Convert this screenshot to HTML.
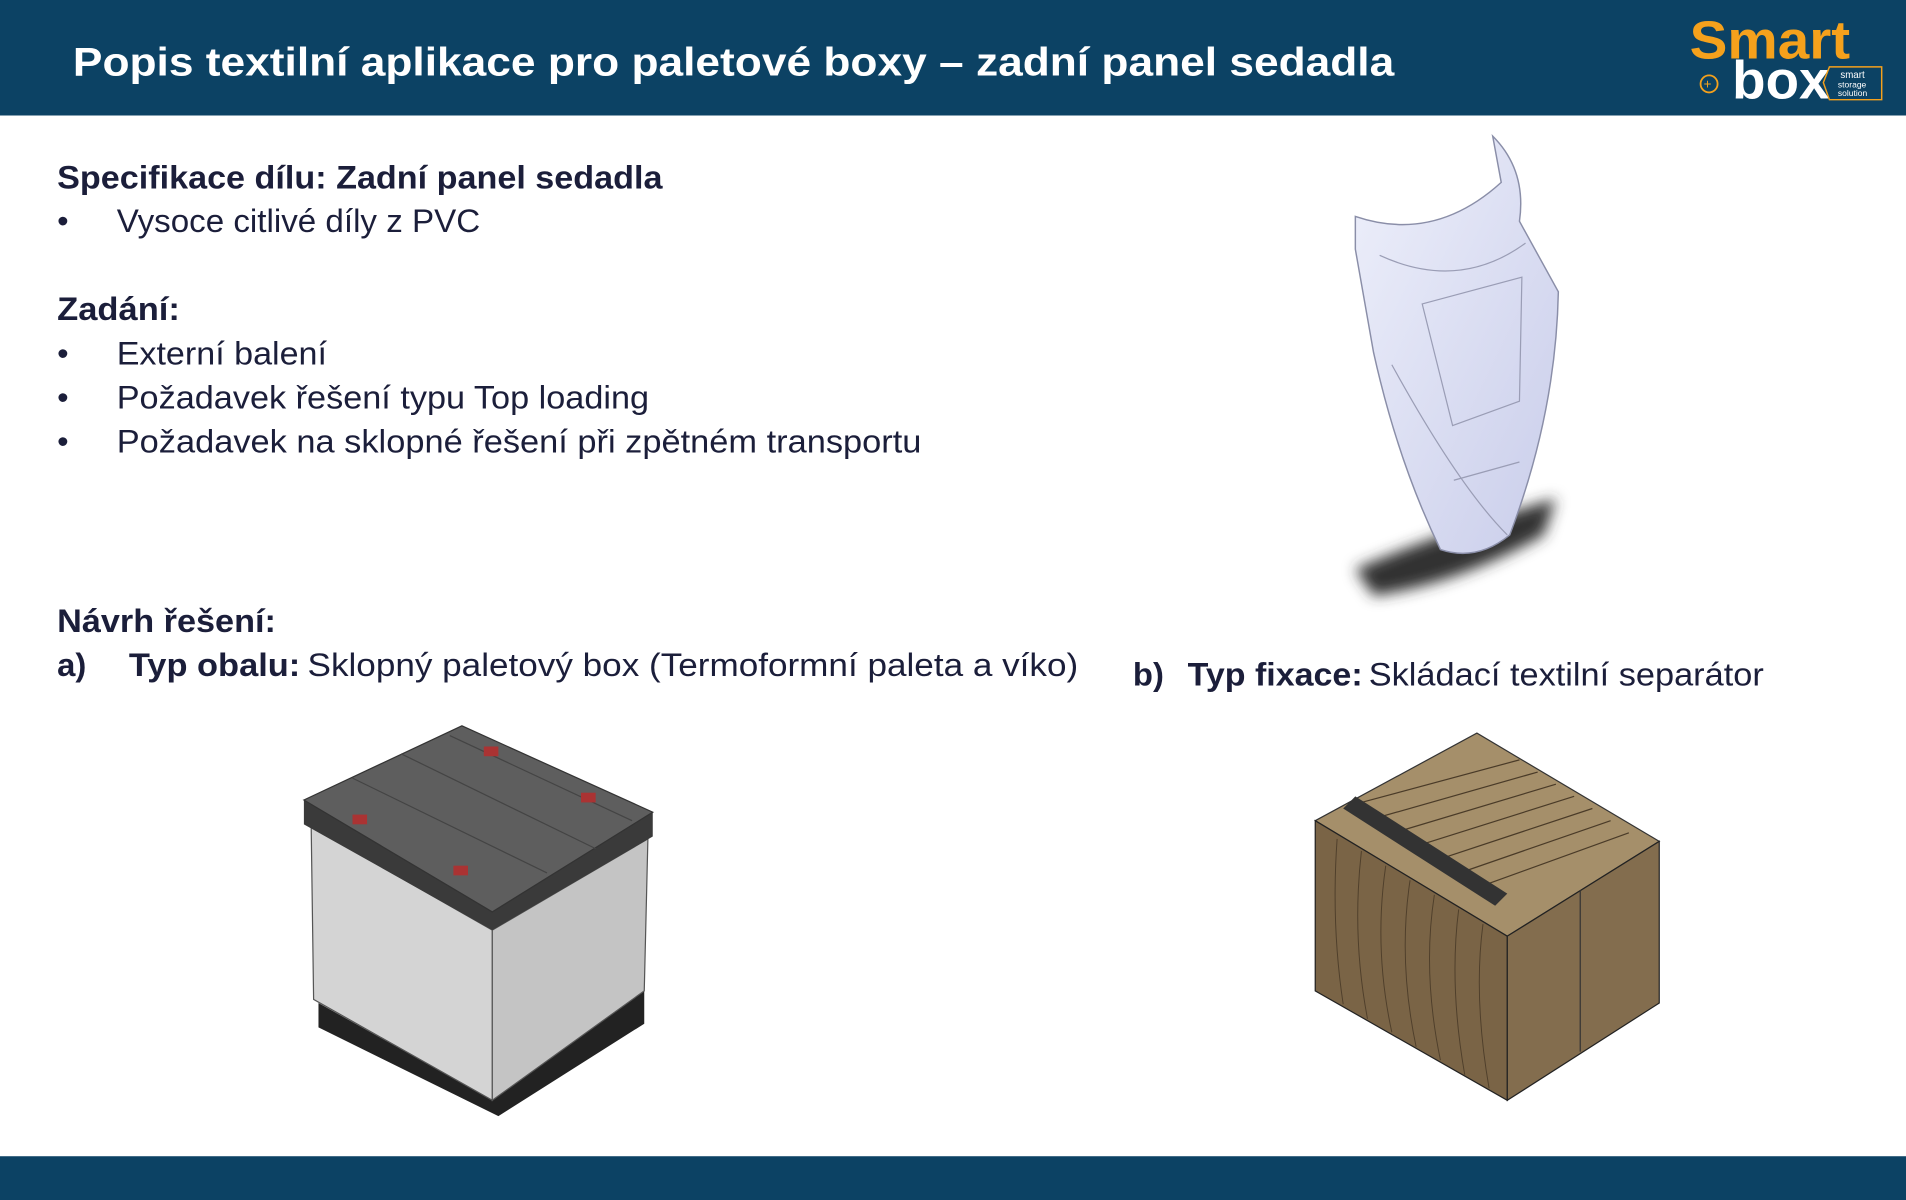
<!DOCTYPE html>
<html><head><meta charset="utf-8"><style>
html,body{margin:0;padding:0;background:#fff;}
svg{display:block;}
text{font-family:"Liberation Sans",sans-serif;}
</style></head><body>
<svg width="1906" height="1200" viewBox="0 0 1568 987" preserveAspectRatio="none" xmlns="http://www.w3.org/2000/svg">
<defs>
<filter id="bl" x="-50%" y="-50%" width="200%" height="200%"><feGaussianBlur stdDeviation="6"/></filter>
<linearGradient id="seat" x1="0" y1="0" x2="1" y2="1"><stop offset="0" stop-color="#eef0fb"/><stop offset="1" stop-color="#c9cdea"/></linearGradient>
</defs>
<rect x="0" y="0" width="1568" height="95" fill="#0c4264"/>
<rect x="0" y="951" width="1568" height="36" fill="#0c4264"/>
<text x="60" y="62" font-size="33" font-weight="bold" fill="#fff" textLength="1087" lengthAdjust="spacingAndGlyphs">Popis textilní aplikace pro paletové boxy – zadní panel sedadla</text>
<text x="1390" y="48" font-size="44" font-weight="bold" fill="#f5a11c" textLength="132" lengthAdjust="spacingAndGlyphs">Smart</text>
<text x="1425" y="81" font-size="44" font-weight="bold" fill="#fff" textLength="80" lengthAdjust="spacingAndGlyphs">box</text>
<circle cx="1406" cy="69" r="7" fill="none" stroke="#f5a11c" stroke-width="1.5"/>
<text x="1401.5" y="73" font-size="11" fill="#f5a11c">+</text>
<path d="M1505,55 L1548,55 L1548,82 L1505,82 L1500,68 Z" fill="none" stroke="#f5a11c" stroke-width="1.2"/>
<text x="1514" y="64" font-size="8" fill="#fff">smart</text>
<text x="1512" y="72" font-size="7" fill="#fff">storage</text>
<text x="1512" y="79" font-size="7" fill="#fff">solution</text>
<g fill="#1b1e3a" font-size="27">
<text x="47" y="155" font-weight="bold" textLength="498" lengthAdjust="spacingAndGlyphs">Specifikace dílu: Zadní panel sedadla</text>
<text x="47" y="191">•</text>
<text x="96" y="191" textLength="299" lengthAdjust="spacingAndGlyphs">Vysoce citlivé díly z PVC</text>
<text x="47" y="263" font-weight="bold" textLength="101" lengthAdjust="spacingAndGlyphs">Zadání:</text>
<text x="47" y="300">•</text>
<text x="96" y="300" textLength="173" lengthAdjust="spacingAndGlyphs">Externí balení</text>
<text x="47" y="336">•</text>
<text x="96" y="336" textLength="438" lengthAdjust="spacingAndGlyphs">Požadavek řešení typu Top loading</text>
<text x="47" y="372">•</text>
<text x="96" y="372" textLength="662" lengthAdjust="spacingAndGlyphs">Požadavek na sklopné řešení při zpětném transportu</text>
<text x="47" y="520" font-weight="bold" textLength="180" lengthAdjust="spacingAndGlyphs">Návrh řešení:</text>
<text x="47" y="556" font-weight="bold">a)</text>
<text x="106" y="556" font-weight="bold" textLength="141" lengthAdjust="spacingAndGlyphs">Typ obalu:</text>
<text x="253" y="556" textLength="634" lengthAdjust="spacingAndGlyphs">Sklopný paletový box  (Termoformní paleta a víko)</text>
<text x="932" y="564" font-weight="bold">b)</text>
<text x="977" y="564" font-weight="bold" textLength="144" lengthAdjust="spacingAndGlyphs">Typ fixace:</text>
<text x="1126" y="564" textLength="325" lengthAdjust="spacingAndGlyphs">Skládací textilní separátor</text>
</g>
<path d="M1115,468 Q1180,440 1280,410 L1270,440 Q1200,480 1130,490 Z" fill="#333" filter="url(#bl)"/>
<path d="M1115,178 Q1180,200 1235,150 L1228,112 Q1256,140 1250,182 L1282,240 Q1280,340 1242,440 Q1215,462 1185,452 Q1150,380 1130,290 L1115,205 Z" fill="url(#seat)" stroke="#8a8ea8" stroke-width="1.2"/>
<path d="M1135,210 Q1200,240 1255,200 M1170,250 L1252,228 L1250,330 L1195,350 Z M1145,300 Q1200,400 1240,440 M1196,395 L1250,380" fill="none" stroke="#9a9db5" stroke-width="1"/>
<path d="M262,825 L405,905 L530,815 L530,842 L410,918 L262,845 Z" fill="#222"/>
<path d="M256,680 L405,765 L405,905 L258,822 Z" fill="#d4d4d4" stroke="#555" stroke-width="1"/>
<path d="M405,765 L533,690 L530,815 L405,905 Z" fill="#c4c4c4" stroke="#555" stroke-width="1"/>
<path d="M250,658 L250,678 L405,765 L537,688 L537,668 L405,750 Z" fill="#3a3a3a"/>
<path d="M250,658 L380,597 L537,668 L405,750 Z" fill="#5e5e5e" stroke="#333" stroke-width="1"/>
<path d="M290,640 L450,718 M330,620 L490,698 M370,605 L520,675" stroke="#444" stroke-width="1"/>
<rect x="398" y="614" width="12" height="8" fill="#a33"/><rect x="478" y="652" width="12" height="8" fill="#a33"/><rect x="290" y="670" width="12" height="8" fill="#a33"/><rect x="373" y="712" width="12" height="8" fill="#a33"/>
<path d="M1082,675 L1215,603 L1365,692 L1240,770 Z" fill="#a58f6a" stroke="#333" stroke-width="1"/>
<g stroke="#4a3b28" stroke-width="1" fill="none">
<path d="M1120,660 L1250,625 M1135,672 L1265,635 M1150,684 L1280,645 M1165,696 L1295,655 M1180,708 L1310,665 M1195,720 L1325,675 M1210,732 L1340,685"/>
</g>
<path d="M1105,665 L1230,745 L1240,735 L1115,655 Z" fill="#333"/>
<path d="M1082,675 L1240,770 L1240,905 L1082,815 Z" fill="#7a6446" stroke="#222" stroke-width="1"/>
<path d="M1240,770 L1365,692 L1365,825 L1240,905 Z" fill="#836d4e" stroke="#222" stroke-width="1"/>
<path d="M1300,732 L1300,865" stroke="#333" stroke-width="1"/>
<g stroke="#4f3f2b" stroke-width="0.8" fill="none">
<path d="M1100,690 Q1095,760 1105,826 M1120,700 Q1112,770 1125,838 M1140,712 Q1130,780 1145,849 M1160,724 Q1150,790 1165,861 M1180,736 Q1170,800 1185,872 M1200,748 Q1192,810 1205,884 M1220,760 Q1212,820 1225,895"/>
</g>
</svg>
</body></html>
